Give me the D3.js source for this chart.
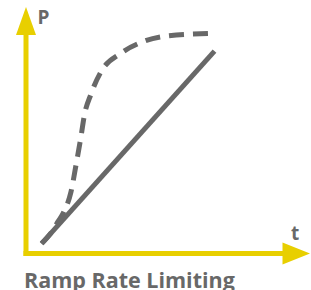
<!DOCTYPE html>
<html>
<head>
<meta charset="utf-8">
<script src="https://cdn.jsdelivr.net/npm/d3@7"></script>
<style>
  html, body { margin: 0; padding: 0; background: #fff; }
  svg { display: block; }
</style>
</head>
<body>
<div id="chart"></div>
<script>
// ramp-limited output (solid) vs unlimited response (dashed), in axis units 0..100
const limitedT = [6, 72.5];
const limitedP = [4.5, 92];
const rawT = [6, 10, 12.3, 14.6, 17.3, 19.2, 21.2, 22.4, 25, 28.8, 36.5, 45.5, 55, 71];
const rawP = [4.5, 10, 14.5, 19, 28, 40, 53.5, 62.5, 72.5, 82.5, 91, 96.5, 99, 100];
const axisLabels = ['t', 'P'];
const title = 'Ramp Rate Limiting';

const width = 311, height = 290;
const grey = '#686868', yellow = '#e8cf00';

const svg = d3.select('#chart').append('svg')
    .attr('width', width)
    .attr('height', height);

const x = d3.scaleLinear().domain([0, 100]).range([26, 286]);
const y = d3.scaleLinear().domain([0, 100]).range([253.5, 33.5]);

// axes with arrow heads
const axisG = svg.append('g');
axisG.append('line')
    .attr('x1', x(0)).attr('x2', x(0))
    .attr('y1', y(0) + 2.5).attr('y2', 30)
    .attr('stroke', yellow).attr('stroke-width', 5);
axisG.append('line')
    .attr('x1', x(0) - 2.5).attr('x2', 285)
    .attr('y1', y(0)).attr('y2', y(0))
    .attr('stroke', yellow).attr('stroke-width', 5);
axisG.append('path')
    .attr('d', `M${x(0) - 10},35 L${x(0)},7 L${x(0) + 10},35 Z`)
    .attr('fill', yellow);
axisG.append('path')
    .attr('d', `M282.5,${y(0) - 11} L310,${y(0)} L282.5,${y(0) + 11} Z`)
    .attr('fill', yellow);

const line = d3.line()
    .x(d => x(d[0]))
    .y(d => y(d[1]));

svg.append('path')
    .datum(d3.zip(rawT, rawP))
    .attr('d', line.curve(d3.curveMonotoneX))
    .attr('fill', 'none')
    .attr('stroke', grey)
    .attr('stroke-width', 5)
    .attr('stroke-dasharray', '15,9');

svg.append('path')
    .datum(d3.zip(limitedT, limitedP))
    .attr('d', line.curve(d3.curveLinear))
    .attr('fill', 'none')
    .attr('stroke', grey)
    .attr('stroke-width', 5);

const font = "'Open Sans', sans-serif";

svg.append('text')
    .attr('x', 291).attr('y', 240)
    .attr('font-family', font).attr('font-weight', 700)
    .attr('font-size', 19).attr('fill', grey)
    .text(axisLabels[0]);

svg.append('text')
    .attr('x', 37.5).attr('y', 24)
    .attr('font-family', font).attr('font-weight', 700)
    .attr('font-size', 19).attr('fill', grey)
    .text(axisLabels[1]);

svg.append('text')
    .attr('x', 24).attr('y', 287.5)
    .attr('font-family', font).attr('font-weight', 700)
    .attr('font-size', 21.5).attr('fill', grey)
    .text(title);
</script>
</body>
</html>
